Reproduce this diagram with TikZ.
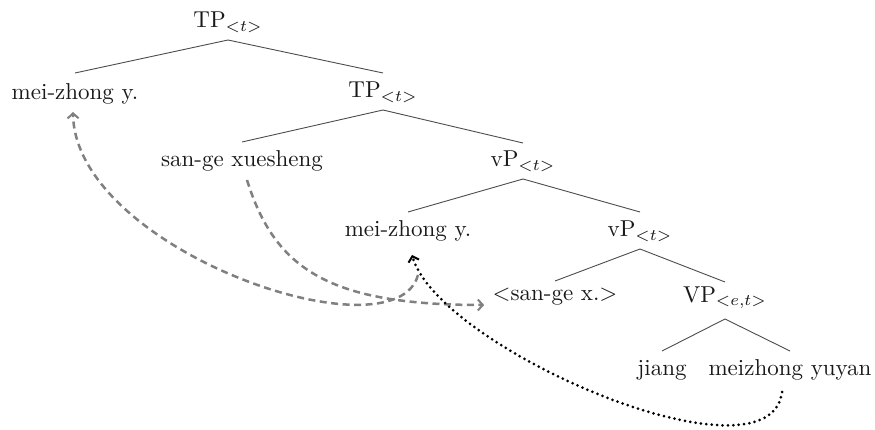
\documentclass[tikz,border=0pt]{standalone}
\usetikzlibrary{arrows.meta}
\begin{document}
\begin{tikzpicture}[x=1pt,y=-1pt,
  lbl/.style={anchor=base, inner sep=0pt, scale=2.3, text=black!90},
  edge/.style={draw=black!70, line width=0.9pt},
  mv/.style={draw=black!50, line width=2.5pt, dash pattern=on 7pt off 4.5pt,
    -{Straight Barb[length=5pt,width=11pt,line width=2pt]}},
  dotarrow/.style={draw=black, line width=3pt, line cap=round, dash pattern=on 0pt off 5.4pt,
    -{Straight Barb[length=5pt,width=11pt,line width=2pt]}}]
\useasboundingbox (0,0) rectangle (875,430);
% nodes
\node[lbl] (tp1) at (228,28)  {TP$_{<t>}$};
\node[lbl] (mz1) at (75,100)  {mei-zhong y.};
\node[lbl] (tp2) at (383,98)  {TP$_{<t>}$};
\node[lbl] (sg)  at (242,167) {san-ge xuesheng};
\node[lbl] (vp1) at (523,167) {vP$_{<t>}$};
\node[lbl] (mz2) at (408,237) {mei-zhong y.};
\node[lbl] (vp2) at (640,237) {vP$_{<t>}$};
\node[lbl] (sx)  at (555,301) {\textless san-ge x.\textgreater};
\node[lbl] (vpb) at (725,302) {VP$_{<e,t>}$};
\node[lbl] (ji)  at (662,375) {jiang};
\node[lbl] (my)  at (790,375) {meizhong yuyan};
% tree edges
\draw[edge] ([yshift=-12pt]tp1.base) -- ([yshift=27pt]mz1.base);
\draw[edge] ([yshift=-12pt]tp1.base) -- ([yshift=25pt]tp2.base);
\draw[edge] ([yshift=-12pt]tp2.base) -- ([yshift=25pt]sg.base);
\draw[edge] ([yshift=-12pt]tp2.base) -- ([yshift=24pt]vp1.base);
\draw[edge] ([yshift=-12pt]vp1.base) -- ([yshift=25pt]mz2.base);
\draw[edge] ([yshift=-12pt]vp1.base) -- ([yshift=25pt]vp2.base);
\draw[edge] ([yshift=-12pt]vp2.base) -- ([yshift=20pt]sx.base);
\draw[edge] ([yshift=-12pt]vp2.base) -- ([yshift=20pt]vpb.base);
\draw[edge] ([yshift=-17pt]vpb.base) -- ([yshift=24pt]ji.base);
\draw[edge] ([yshift=-17pt]vpb.base) -- ([yshift=24pt]my.base);
% movement arrows
\draw[mv] ([xshift=10pt,yshift=-38pt]mz2.base) .. controls (395,360) and (75,250) .. ([xshift=-2pt,yshift=-12pt]mz1.base);
\draw[mv] ([xshift=5pt,yshift=-13pt]sg.base) .. controls (275,270) and (330,305) .. ([xshift=-8pt,yshift=-4pt]sx.base west);
\draw[dotarrow] ([xshift=-8pt,yshift=-17pt]my.base) .. controls (770,490) and (440,350) .. ([xshift=4pt,yshift=-18pt]mz2.base);
\end{tikzpicture}
\end{document}
